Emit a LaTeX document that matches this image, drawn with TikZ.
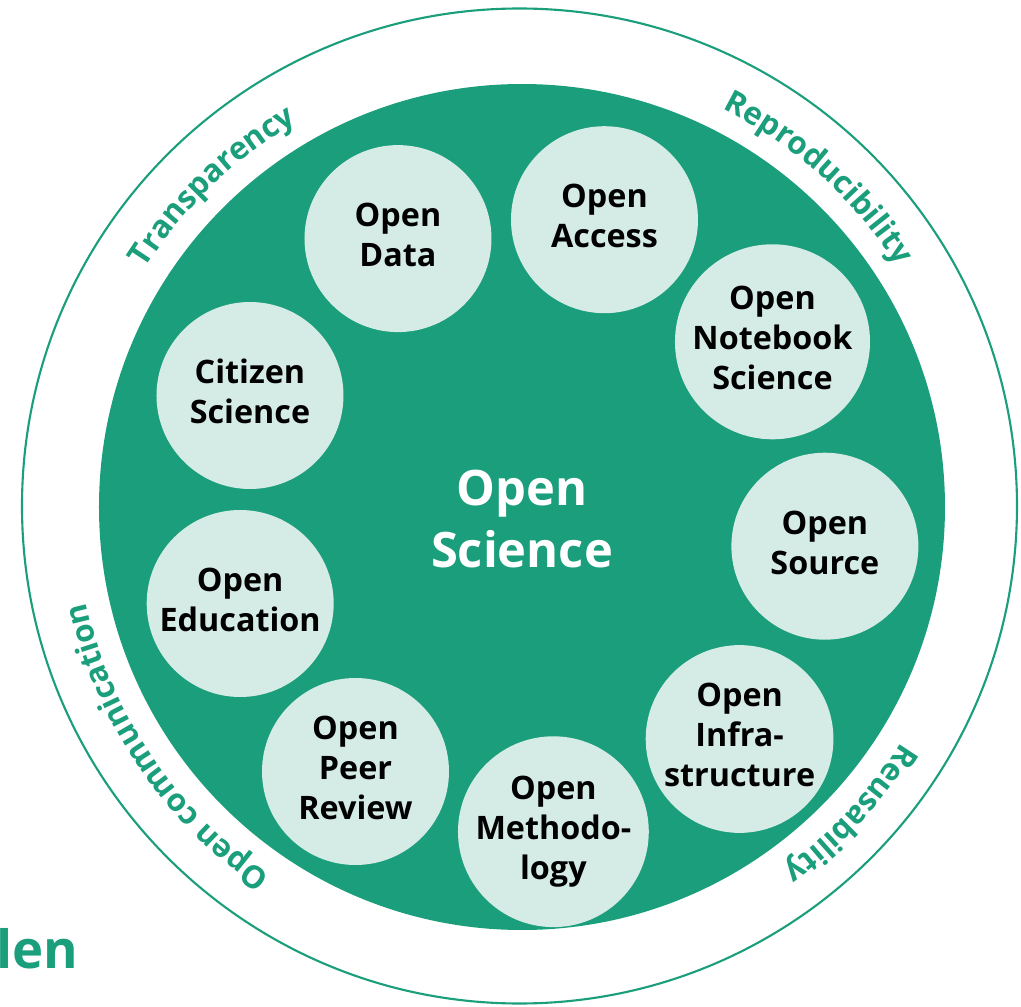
\documentclass[tikz,border=0pt]{standalone}
\usepackage{fontspec}
\setmainfont{Open Sans}
\usetikzlibrary{decorations.text}

\definecolor{osgreen}{RGB}{26,158,123}
\definecolor{oslight}{RGB}{213,235,229}

\begin{document}
\begin{tikzpicture}[
    font=\bfseries,
    % Define styles for the different parts
    disk/.style={circle, fill=osgreen, minimum size=8.46cm, inner sep=0pt},
    topic/.style={circle, fill=oslight, minimum size=1.87cm, inner sep=0pt, align=center, text=black, font=\fontsize{9.2}{11.4}\selectfont\bfseries},
    ringlabel/.style={decorate, decoration={text along path, text align=center, text color=osgreen, text={|\fontsize{8.9}{10}\selectfont\bfseries|#1}}},
]
\useasboundingbox (-5.22,-5.00) rectangle (4.99,5.07);

% -------------------------
% Outer ring and disk
% -------------------------
\draw[osgreen, line width=0.6pt] (-0.025,0.01) circle[radius=4.975];
\node (core) [disk] at (0,0) {};
\node (science) [text=white, align=center, font=\fontsize{13.9}{17.6}\selectfont\bfseries] at (0,-0.12) {Open\\Science};

% -------------------------
% Topics around the core
% -------------------------
\node (data)      [topic] at (-1.24,2.684)  {Open\\Data\vphantom{g}};
\node (access)    [topic] at (0.825,2.873)  {Open\\Access\vphantom{g}};
\node (notebook)  [topic] at (2.505,1.652)  {Open\\Notebook\\Science\vphantom{g}};
\node (source)    [topic] at (3.029,-0.392) {Open\\Source\vphantom{g}};
\node (infra)     [topic] at (2.176,-2.32)  {Open\\Infra-\\structure\vphantom{g}};
\node (method)    [topic] at (0.314,-3.247) {Open\\Methodo-\\logy};
\node (peer)      [topic] at (-1.665,-2.645) {Open\\Peer\\Review\vphantom{g}};
\node (education) [topic] at (-2.818,-0.965) {Open\\Education\vphantom{g}};
\node (citizen)   [topic] at (-2.72,1.115)  {Citizen\\Science\vphantom{g}};

% -------------------------
% Labels along the ring
% -------------------------
\path[ringlabel=Transparency] (164:4.46) arc[start angle=164, end angle=104, radius=4.46];
\path[ringlabel=Reproducibility] (78:4.46) arc[start angle=78, end angle=18, radius=4.46];
\path[ringlabel=Reusability] (-13:4.46) arc[start angle=-13, end angle=-73, radius=4.46];
\path[ringlabel=Open communication] (-116:4.46) arc[start angle=-116, end angle=-176, radius=4.46];

% cut-off word at the lower left
\node (word) [anchor=base west, inner sep=0pt, text=osgreen, font=\fontsize{15}{18}\selectfont\bfseries] at (-5.26,-4.61) {len};

\end{tikzpicture}
\end{document}
